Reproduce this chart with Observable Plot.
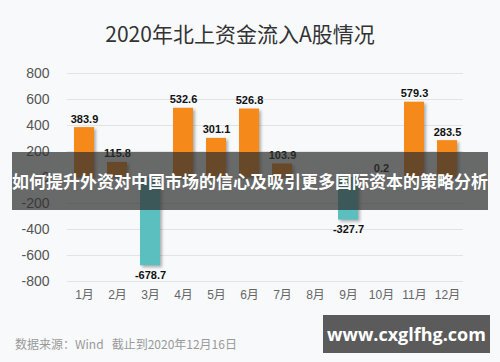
<!DOCTYPE html>
<html><head><meta charset="utf-8">
<script src="https://cdn.jsdelivr.net/npm/d3@7"></script>
<script src="https://cdn.jsdelivr.net/npm/@observablehq/plot@0.6"></script>
<style>
html,body{margin:0;padding:0;}
body{width:500px;height:362px;background:#f8f9fb;position:relative;overflow:hidden;font-family:"Liberation Sans","Noto Sans CJK SC",sans-serif;}
#chart{position:absolute;left:0;top:0;}
#title{position:absolute;left:0;width:480px;top:18px;text-align:center;font-family:"Noto Sans CJK SC",sans-serif;font-size:21px;color:#333;}
#source{position:absolute;left:15px;top:335px;font-family:"Noto Sans CJK SC",sans-serif;font-size:12px;color:#9a9a9a;}
#banner{position:absolute;left:12px;top:152px;width:476px;height:58px;background:rgba(48,48,48,0.72);color:#fff;font-family:"Noto Sans CJK SC",sans-serif;font-weight:bold;font-size:17px;line-height:58px;text-align:center;white-space:nowrap;}
#wm{position:absolute;left:323px;top:315px;width:167px;height:38px;background:#5b5b5b;color:#fff;font-family:"Open Sans",sans-serif;font-weight:bold;font-size:18px;line-height:38px;text-align:center;}
g[aria-label="bar"] rect{filter:drop-shadow(2px 2px 1.5px rgba(0,0,0,0.3));}
</style></head>
<body>
<div id="chart"></div>
<div id="title">2020年北上资金流入A股情况</div>
<div id="source">数据来源：Wind&nbsp;&nbsp;&nbsp;截止到2020年12月16日</div>
<div id="banner">如何提升外资对中国市场的信心及吸引更多国际资本的策略分析</div>
<div id="wm">www.cxglfhg.com</div>
<script>
const months = ["1月","2月","3月","4月","5月","6月","7月","8月","9月","10月","11月","12月"];
const values = [383.9, 115.8, -678.7, 532.6, 301.1, 526.8, 103.9, null, -327.7, 0.2, 579.3, 283.5];
const labels = ["383.9","115.8","-678.7","532.6","301.1","526.8","103.9","","-327.7","0.2","579.3","283.5"];
const yTicks = [-800,-600,-400,-200,0,200,400,600,800];

const data = months.map((m,i)=>({month:m, value:values[i], label:labels[i]}));
const bars = data.filter(d=>d.value!=null);
const pos = bars.filter(d=>d.value>=0);
const neg = bars.filter(d=>d.value<0);

const chart = Plot.plot({
  width:500, height:362,
  marginTop:73, marginBottom:81, marginLeft:67, marginRight:37,
  style:{background:"transparent", fontFamily:"'Liberation Sans','Noto Sans CJK SC',sans-serif"},
  x:{domain:months, paddingInner:0.4, paddingOuter:0.2, label:null, tickSize:0, tickPadding:9},
  y:{domain:[-800,800], ticks:yTicks, tickFormat:d=>String(d), label:null, tickSize:0, tickPadding:18, grid:false},
  marks:[
    Plot.ruleY(yTicks, {stroke:"#e3e3e3", strokeWidth:1}),
    Plot.barY(bars, {x:"month", y:"value", fill:d=>d.value>=0?"#f5891a":"#5cbfbf"}),
    Plot.text(pos, {x:"month", y:"value", text:"label", lineAnchor:"bottom", dy:-5, fontSize:11, fontWeight:"bold", fill:"#111"}),
    Plot.text(neg, {x:"month", y:"value", text:"label", lineAnchor:"top", dy:5, fontSize:11, fontWeight:"bold", fill:"#111"})
  ]
});
const ya = chart.querySelector('g[aria-label="y-axis tick label"]'); if(ya){ya.setAttribute("font-size","14");ya.setAttribute("fill","#555");}
const xa = chart.querySelector('g[aria-label="x-axis tick label"]'); if(xa){xa.setAttribute("font-size","12");xa.setAttribute("fill","#666");}
document.getElementById("chart").appendChild(chart);
</script>
</body></html>
